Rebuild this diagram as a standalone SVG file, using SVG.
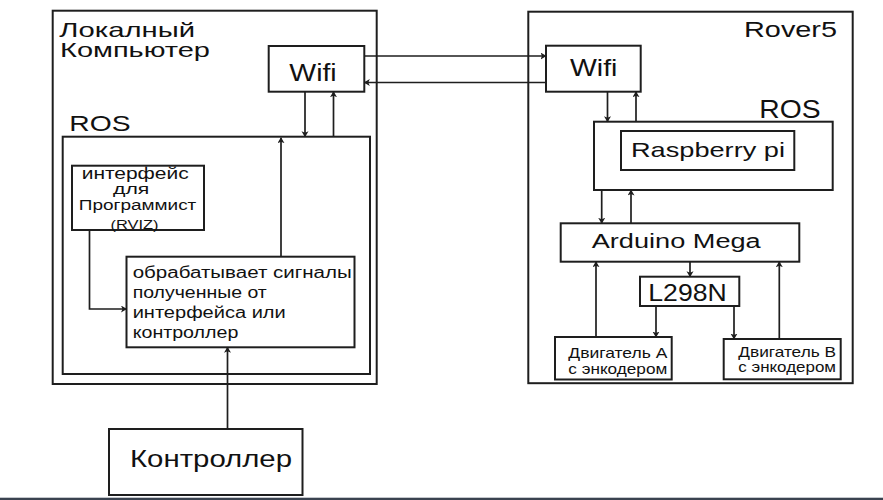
<svg xmlns="http://www.w3.org/2000/svg" width="883" height="500" viewBox="0 0 883 500">
<style>
.box{fill:#ffffff;stroke:#1e1e1e;stroke-width:2}
.con{fill:none;stroke:#1e1e1e;stroke-width:1.7}
text{font-family:"Liberation Sans",Arial,sans-serif;fill:#111111}
</style>
<defs>
<marker id="ah" markerUnits="userSpaceOnUse" markerWidth="8" markerHeight="8" refX="5.5" refY="3.5" orient="auto">
<path d="M0,0 L6,3.5 L0,7 L1.5,3.5 z" fill="#1e1e1e"/>
</marker>
</defs>
<rect width="883" height="500" fill="#ffffff"/>
<g id="local-computer">
<rect class="box" x="52.7" y="10.7" width="324" height="373.3"/>
<text x="59.3" y="37" font-size="21" textLength="135.7" lengthAdjust="spacingAndGlyphs">Локалный</text>
<text x="60" y="56.5" font-size="21" textLength="150" lengthAdjust="spacingAndGlyphs">Компьютер</text>
</g>
<g id="ros-local">
<rect class="box" x="62.7" y="136.7" width="307.3" height="237.3"/>
<text x="69.3" y="131" font-size="22" textLength="61.3" lengthAdjust="spacingAndGlyphs">ROS</text>
</g>
<g id="wifi-local">
<rect class="box" x="268.7" y="46" width="95.6" height="45.7"/>
<text x="289.3" y="80.7" font-size="23.5" textLength="47.4" lengthAdjust="spacingAndGlyphs">Wifi</text>
</g>
<g id="interface">
<rect class="box" x="72" y="165.7" width="132" height="64.3"/>
<text x="81.7" y="178.5" font-size="16" textLength="107" lengthAdjust="spacingAndGlyphs">интерфейс</text>
<text x="113" y="193.5" font-size="15.5" textLength="36.3" lengthAdjust="spacingAndGlyphs">для</text>
<text x="78.8" y="209.5" font-size="14" textLength="117.5" lengthAdjust="spacingAndGlyphs">Программист</text>
<text x="110.5" y="228.8" font-size="12" textLength="48" lengthAdjust="spacingAndGlyphs">(RVIZ)</text>
</g>
<g id="processor">
<rect class="box" x="126.5" y="256.7" width="228" height="90.6"/>
<text x="132.7" y="278.3" font-size="16" textLength="219" lengthAdjust="spacingAndGlyphs">обрабатывает сигналы</text>
<text x="132.7" y="297.8" font-size="16" textLength="134" lengthAdjust="spacingAndGlyphs">полученные от</text>
<text x="132.7" y="318.3" font-size="16" textLength="153" lengthAdjust="spacingAndGlyphs">интерфейса или</text>
<text x="132.7" y="338.3" font-size="16" textLength="105.6" lengthAdjust="spacingAndGlyphs">контроллер</text>
</g>
<g id="controller">
<rect class="box" x="109" y="429" width="193.5" height="66"/>
<text x="130" y="467.3" font-size="24" textLength="162" lengthAdjust="spacingAndGlyphs">Контроллер</text>
</g>
<g id="rover5">
<rect class="box" x="528.3" y="11.7" width="324.4" height="371.5"/>
<text x="744" y="37.3" font-size="22" textLength="93" lengthAdjust="spacingAndGlyphs">Rover5</text>
</g>
<g id="wifi-rover">
<rect class="box" x="546" y="45.7" width="94.7" height="46"/>
<text x="570" y="76" font-size="24" textLength="47.4" lengthAdjust="spacingAndGlyphs">Wifi</text>
</g>
<g id="ros-rover">
<rect class="box" x="594" y="121.7" width="238.7" height="68.3"/>
<text x="759.3" y="118.3" font-size="25" textLength="61.3" lengthAdjust="spacingAndGlyphs">ROS</text>
</g>
<g id="raspberry">
<rect class="box" x="621" y="131" width="173.3" height="39"/>
<text x="631" y="156.7" font-size="21" textLength="154" lengthAdjust="spacingAndGlyphs">Raspberry pi</text>
</g>
<g id="arduino">
<rect class="box" x="560.7" y="223.3" width="238.6" height="38.4"/>
<text x="591.7" y="248.3" font-size="20" textLength="169" lengthAdjust="spacingAndGlyphs">Arduino Mega</text>
</g>
<g id="l298n">
<rect class="box" x="640" y="276.7" width="99.3" height="29.3"/>
<text x="648.3" y="300.7" font-size="23" textLength="78.4" lengthAdjust="spacingAndGlyphs">L298N</text>
</g>
<g id="motor-a">
<rect class="box" x="555" y="337" width="116.7" height="42.5"/>
<text x="568.3" y="357.8" font-size="15" textLength="99" lengthAdjust="spacingAndGlyphs">Двигатель А</text>
<text x="568.3" y="374" font-size="15" textLength="99" lengthAdjust="spacingAndGlyphs">с энкодером</text>
</g>
<g id="motor-b">
<rect class="box" x="723.7" y="339" width="117" height="40.3"/>
<text x="738.3" y="356.5" font-size="15" textLength="97.7" lengthAdjust="spacingAndGlyphs">Двигатель В</text>
<text x="738.3" y="371.7" font-size="15" textLength="97.7" lengthAdjust="spacingAndGlyphs">с энкодером</text>
</g>
<g id="connectors">
<path class="con" d="M305,91.7 V136.7" marker-end="url(#ah)"/>
<path class="con" d="M333.5,136.7 V91.7" marker-end="url(#ah)"/>
<path class="con" d="M364.3,56 H546" marker-end="url(#ah)"/>
<path class="con" d="M546,82.5 H364.3" marker-end="url(#ah)"/>
<path class="con" d="M89.5,230 V309 H126.5" marker-end="url(#ah)"/>
<path class="con" d="M281,256.7 V137.7" marker-end="url(#ah)"/>
<path class="con" d="M227.5,429 V347.3" marker-end="url(#ah)"/>
<path class="con" d="M607.5,91.7 V121.7" marker-end="url(#ah)"/>
<path class="con" d="M636,121.7 V91.7" marker-end="url(#ah)"/>
<path class="con" d="M601.7,190 V223.3" marker-end="url(#ah)"/>
<path class="con" d="M631,223.3 V190" marker-end="url(#ah)"/>
<path class="con" d="M690,261.7 V276.7" marker-end="url(#ah)"/>
<path class="con" d="M656,306 V337" marker-end="url(#ah)"/>
<path class="con" d="M734,306 V339" marker-end="url(#ah)"/>
<path class="con" d="M596,337 V261.7" marker-end="url(#ah)"/>
<path class="con" d="M779.3,339 V261.7" marker-end="url(#ah)"/>
</g>
<rect x="0" y="497" width="883" height="1" fill="#c4c7cc"/>
<rect x="0" y="498" width="883" height="2" fill="#3a4350"/>
</svg>
